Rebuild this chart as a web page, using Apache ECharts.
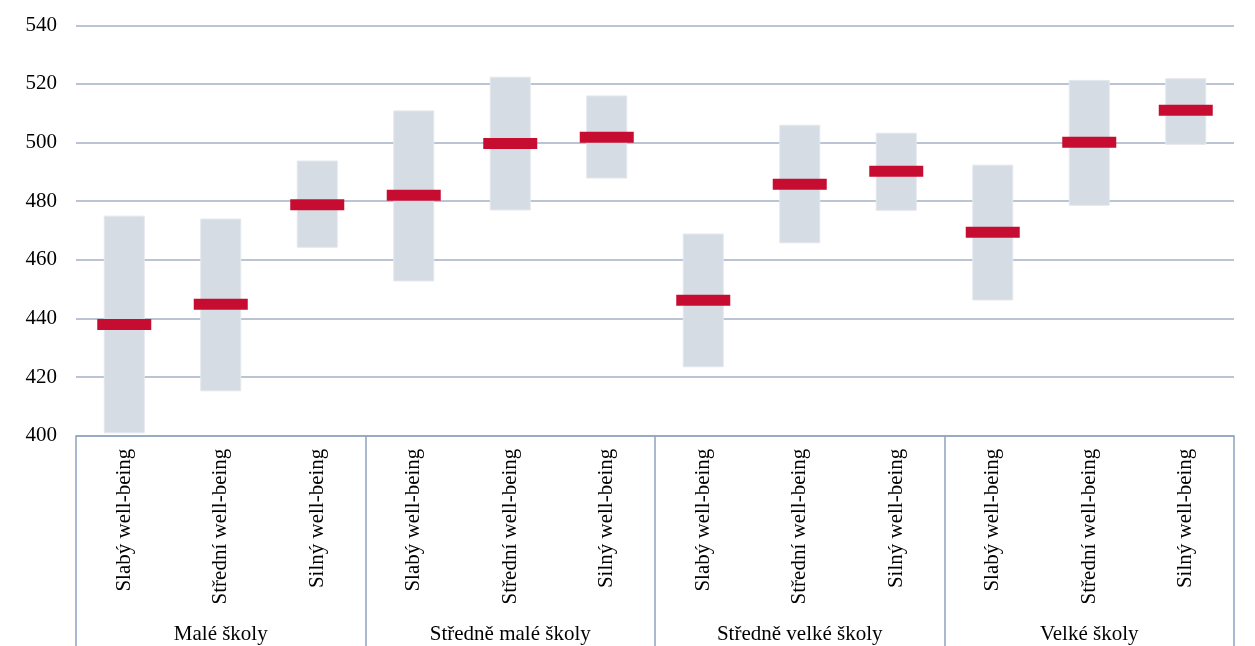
<!DOCTYPE html>
<html>
<head>
<meta charset="utf-8">
<script src="https://cdn.jsdelivr.net/npm/echarts@6/dist/echarts.min.js"></script>
<style>
html,body{margin:0;padding:0;background:#fff;}
#chart{width:1255px;height:646px;}
</style>
</head>
<body>
<div id="chart"></div>
<script>
var categories = ['Slabý well-being','Střední well-being','Silný well-being',
                  'Slabý well-being','Střední well-being','Silný well-being',
                  'Slabý well-being','Střední well-being','Silný well-being',
                  'Slabý well-being','Střední well-being','Silný well-being'];
var groups = ['Malé školy','Středně malé školy','Středně velké školy','Velké školy'];
var lowValues  = [401.0, 415.3, 464.3, 452.8, 477.0, 487.9, 423.5, 465.8, 476.9, 446.3, 478.6, 499.4];
var highValues = [474.9, 473.9, 493.7, 510.8, 522.3, 515.9, 468.8, 505.9, 503.2, 492.3, 521.2, 521.8];
var meanValues = [437.9, 444.8, 478.8, 482.0, 499.7, 501.8, 446.2, 485.8, 490.2, 469.4, 500.1, 511.0];
var yTicks = {min: 400, max: 540, interval: 20};

var FONT = '"Liberation Serif", "Times New Roman", serif';
var rangeData = categories.map(function(c, i){ return [i, lowValues[i], highValues[i]]; });
var meanData = categories.map(function(c, i){ return [i, meanValues[i]]; });

var chart = echarts.init(document.getElementById('chart'), null, {renderer:'canvas'});
chart.setOption({
  animation: false,
  backgroundColor: '#ffffff',
  grid: {left: 76, right: 21, top: 25.3, bottom: 210.3, containLabel: false},
  xAxis: [{
    type: 'category',
    position: 'bottom',
    data: categories,
    axisLine: {show: true, lineStyle: {color: '#8fa3be', width: 1.5}},
    axisTick: {show: false},
    axisLabel: {rotate: 90, margin: 13, fontFamily: FONT, fontSize: 21, color: '#000', interval: 0}
  }, {
    type: 'category',
    position: 'bottom',
    data: groups,
    axisLine: {show: false},
    axisTick: {show: true, length: 215, interval: 0, lineStyle: {color: '#8fa3be', width: 1.5}},
    axisLabel: {margin: 188, fontFamily: FONT, fontSize: 21, color: '#000', interval: 0},
    splitLine: {show: false}
  }],
  yAxis: {
    type: 'value',
    min: yTicks.min, max: yTicks.max, interval: yTicks.interval,
    axisLine: {show: false},
    axisTick: {show: false},
    axisLabel: {margin: 19, fontFamily: FONT, fontSize: 21, color: '#000'},
    splitLine: {show: true, lineStyle: {color: '#a3b1c6', width: 1.5}}
  },
  series: [{
    type: 'custom',
    xAxisIndex: 0,
    data: rangeData,
    encode: {x: 0, y: [1, 2]},
    renderItem: function(params, api){
      var x = api.value(0);
      var p1 = api.coord([x, api.value(1)]);
      var p2 = api.coord([x, api.value(2)]);
      var w = 40;
      return {
        type: 'rect',
        shape: {x: p1[0] - w/2, y: p2[1], width: w, height: p1[1] - p2[1]},
        style: {fill: '#d6dce4', stroke: '#e3e7ed', lineWidth: 1}
      };
    },
    z: 2
  }, {
    type: 'scatter',
    xAxisIndex: 0,
    data: meanData,
    symbol: 'rect',
    symbolSize: [54, 11],
    itemStyle: {color: '#c60c30', opacity: 1},
    z: 3
  }]
});
</script>
</body>
</html>
